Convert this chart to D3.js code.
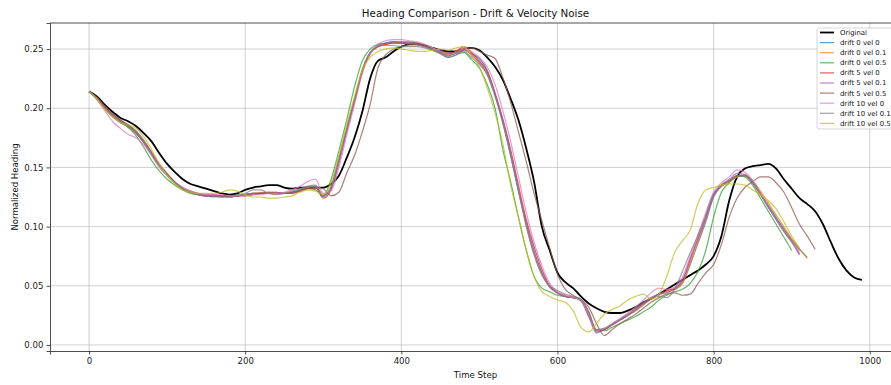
<!DOCTYPE html>
<html>
<head>
<meta charset="utf-8">
<script src="https://cdn.jsdelivr.net/npm/d3@7/dist/d3.min.js"></script>
<style>
  body { margin: 0; background: #fff; }
  svg { font-family: "DejaVu Sans", sans-serif; }
</style>
</head>
<body>
<svg width="891" height="385"></svg>
<script>
// sampled every 10 time steps
const step = 10;

const original = [0.214,0.210,0.203,0.197,0.192,0.189,0.185,0.179,0.172,0.162,
  0.153,0.146,0.140,0.136,0.134,0.132,0.130,0.128,0.127,0.128,
  0.131,0.133,0.134,0.135,0.135,0.133,0.132,0.133,0.133,0.133,
  0.133,0.136,0.143,0.158,0.175,0.197,0.225,0.240,0.243,0.248,
  0.252,0.254,0.254,0.253,0.251,0.249,0.248,0.248,0.250,0.251,
  0.249,0.243,0.235,0.224,0.208,0.190,0.166,0.138,0.100,0.080,
  0.061,0.053,0.048,0.041,0.035,0.031,0.028,0.027,0.027,0.029,
  0.032,0.036,0.039,0.043,0.047,0.051,0.055,0.059,0.063,0.068,
  0.075,0.092,0.122,0.142,0.149,0.151,0.152,0.153,0.149,0.140,
  0.132,0.124,0.119,0.113,0.102,0.087,0.073,0.063,0.057,0.055];

const d0v0 = [0.214,0.209,0.201,0.194,0.189,0.185,0.179,0.171,0.161,0.151,
  0.143,0.137,0.132,0.129,0.127,0.126,0.126,0.126,0.126,0.126,
  0.127,0.128,0.128,0.129,0.128,0.128,0.129,0.131,0.133,0.134,
  0.125,0.134,0.158,0.183,0.207,0.232,0.247,0.253,0.255,0.256,
  0.256,0.256,0.255,0.253,0.250,0.247,0.244,0.247,0.250,0.246,
  0.242,0.232,0.212,0.188,0.160,0.130,0.103,0.079,0.061,0.049,
  0.044,0.041,0.040,0.038,0.026,0.011,0.013,0.017,0.021,0.025,
  0.029,0.034,0.039,0.043,0.045,0.047,0.052,0.068,0.086,0.104,
  0.125,0.134,0.138,0.142,0.143,0.138,0.128,0.118,0.108,0.098,
  0.089,0.081,0.074];

const d0v01 = [0.214,0.208,0.200,0.193,0.188,0.184,0.179,0.171,0.161,0.152,
  0.144,0.137,0.132,0.129,0.127,0.127,0.126,0.126,0.126,0.126,
  0.127,0.128,0.129,0.129,0.129,0.128,0.128,0.130,0.133,0.134,
  0.126,0.133,0.156,0.183,0.208,0.233,0.247,0.252,0.254,0.255,
  0.255,0.255,0.254,0.252,0.250,0.248,0.245,0.248,0.251,0.246,
  0.239,0.229,0.211,0.189,0.162,0.131,0.101,0.077,0.060,0.049,
  0.044,0.041,0.040,0.038,0.027,0.012,0.013,0.017,0.021,0.025,
  0.029,0.034,0.039,0.042,0.045,0.047,0.052,0.069,0.087,0.106,
  0.126,0.134,0.138,0.142,0.144,0.139,0.130,0.120,0.110,0.100,
  0.090,0.081,0.073];

const d0v05 = [0.214,0.208,0.200,0.193,0.188,0.184,0.177,0.167,0.156,0.147,
  0.140,0.135,0.131,0.128,0.127,0.126,0.125,0.125,0.125,0.126,
  0.127,0.128,0.128,0.128,0.128,0.128,0.129,0.131,0.132,0.131,
  0.126,0.140,0.164,0.190,0.218,0.240,0.250,0.254,0.255,0.256,
  0.255,0.255,0.254,0.252,0.250,0.247,0.245,0.246,0.247,0.241,
  0.234,0.220,0.200,0.165,0.138,0.108,0.080,0.058,0.048,0.045,
  0.042,0.041,0.040,0.038,0.024,0.013,0.012,0.015,0.018,0.021,
  0.024,0.028,0.032,0.038,0.042,0.045,0.047,0.052,0.062,0.080,
  0.108,0.129,0.137,0.143,0.142,0.135,0.124,0.113,0.102,0.091,
  0.080];

const d5v0 = [0.214,0.209,0.202,0.195,0.190,0.186,0.180,0.172,0.162,0.152,
  0.144,0.137,0.132,0.129,0.127,0.126,0.126,0.125,0.125,0.126,
  0.126,0.127,0.128,0.129,0.129,0.128,0.128,0.130,0.132,0.133,
  0.124,0.131,0.154,0.181,0.206,0.231,0.246,0.252,0.254,0.255,
  0.255,0.255,0.255,0.253,0.251,0.248,0.246,0.248,0.252,0.247,
  0.240,0.231,0.213,0.191,0.165,0.135,0.106,0.083,0.064,0.050,
  0.044,0.041,0.040,0.038,0.028,0.012,0.013,0.017,0.021,0.025,
  0.030,0.035,0.039,0.043,0.046,0.048,0.054,0.072,0.090,0.108,
  0.127,0.135,0.139,0.143,0.143,0.137,0.127,0.117,0.106,0.096,
  0.087,0.077];

const d5v01 = [0.214,0.209,0.201,0.194,0.189,0.185,0.179,0.171,0.161,0.151,
  0.143,0.137,0.132,0.129,0.127,0.126,0.126,0.126,0.125,0.126,
  0.127,0.128,0.128,0.128,0.128,0.128,0.129,0.131,0.134,0.135,
  0.126,0.132,0.155,0.182,0.207,0.232,0.247,0.253,0.255,0.256,
  0.256,0.255,0.254,0.252,0.249,0.246,0.243,0.245,0.249,0.245,
  0.238,0.229,0.212,0.190,0.163,0.132,0.103,0.079,0.061,0.049,
  0.044,0.041,0.040,0.037,0.024,0.010,0.013,0.017,0.021,0.025,
  0.030,0.035,0.040,0.043,0.044,0.047,0.055,0.073,0.090,0.107,
  0.126,0.135,0.140,0.145,0.144,0.137,0.127,0.116,0.106,0.096,
  0.087,0.076];

const d5v05 = [0.214,0.209,0.201,0.195,0.190,0.186,0.181,0.173,0.163,0.153,
  0.145,0.138,0.133,0.130,0.128,0.127,0.127,0.126,0.126,0.126,
  0.127,0.127,0.128,0.128,0.128,0.128,0.129,0.130,0.132,0.133,
  0.132,0.126,0.129,0.145,0.160,0.180,0.203,0.234,0.245,0.250,
  0.252,0.254,0.254,0.253,0.251,0.249,0.247,0.247,0.249,0.251,
  0.248,0.245,0.242,0.226,0.205,0.180,0.155,0.128,0.105,0.082,
  0.060,0.047,0.042,0.038,0.032,0.018,0.008,0.013,0.018,0.022,
  0.026,0.031,0.036,0.040,0.043,0.044,0.042,0.043,0.052,0.061,
  0.068,0.085,0.108,0.124,0.133,0.138,0.142,0.142,0.137,0.129,
  0.116,0.102,0.092,0.081];

const d10v0 = [0.214,0.207,0.198,0.189,0.183,0.178,0.175,0.169,0.160,0.150,
  0.143,0.137,0.133,0.130,0.128,0.127,0.127,0.127,0.126,0.126,
  0.126,0.127,0.127,0.128,0.128,0.129,0.131,0.134,0.138,0.140,
  0.128,0.130,0.150,0.177,0.203,0.229,0.246,0.254,0.257,0.258,
  0.258,0.257,0.256,0.254,0.251,0.248,0.245,0.247,0.250,0.248,
  0.243,0.235,0.220,0.198,0.172,0.142,0.112,0.087,0.067,0.052,
  0.045,0.042,0.040,0.038,0.026,0.012,0.014,0.018,0.022,0.027,
  0.032,0.038,0.044,0.048,0.047,0.049,0.057,0.075,0.093,0.112,
  0.129,0.137,0.142,0.148,0.146,0.139,0.128,0.117,0.106,0.096,
  0.087,0.078];

const d10v01 = [0.214,0.208,0.200,0.193,0.188,0.185,0.180,0.172,0.162,0.152,
  0.144,0.137,0.132,0.129,0.127,0.126,0.126,0.126,0.126,0.127,
  0.128,0.131,0.131,0.128,0.127,0.128,0.130,0.132,0.134,0.134,
  0.127,0.133,0.155,0.181,0.206,0.231,0.246,0.252,0.253,0.253,
  0.252,0.252,0.252,0.251,0.249,0.246,0.243,0.245,0.248,0.243,
  0.237,0.228,0.210,0.187,0.160,0.130,0.100,0.076,0.059,0.050,
  0.046,0.043,0.041,0.039,0.028,0.013,0.014,0.018,0.022,0.026,
  0.031,0.036,0.040,0.041,0.040,0.047,0.062,0.078,0.093,0.110,
  0.128,0.135,0.139,0.143,0.143,0.138,0.128,0.117,0.107,0.097,
  0.088,0.080];

const d10v05 = [0.214,0.208,0.199,0.193,0.188,0.186,0.183,0.176,0.165,0.153,
  0.143,0.136,0.131,0.129,0.128,0.128,0.128,0.129,0.131,0.130,
  0.127,0.125,0.125,0.124,0.124,0.125,0.126,0.129,0.131,0.130,
  0.127,0.137,0.160,0.186,0.210,0.232,0.243,0.248,0.250,0.251,
  0.250,0.249,0.248,0.248,0.249,0.250,0.249,0.251,0.252,0.244,
  0.235,0.217,0.196,0.170,0.135,0.108,0.080,0.058,0.045,0.041,
  0.038,0.036,0.029,0.015,0.011,0.018,0.026,0.030,0.033,0.038,
  0.041,0.043,0.039,0.043,0.058,0.078,0.088,0.097,0.120,0.131,
  0.133,0.135,0.136,0.136,0.135,0.131,0.127,0.122,0.115,0.104,
  0.092,0.082];

const seriesNames = ["Original", "drift 0 vel 0", "drift 0 vel 0.1", "drift 0 vel 0.5",
  "drift 5 vel 0", "drift 5 vel 0.1", "drift 5 vel 0.5",
  "drift 10 vel 0", "drift 10 vel 0.1", "drift 10 vel 0.5"];
const seriesValues = [original, d0v0, d0v01, d0v05, d5v0, d5v01, d5v05, d10v0, d10v01, d10v05];
const seriesColors = ["#000000", "#1f77b4", "#ff7f0e", "#2ca02c", "#d62728",
  "#9467bd", "#8c564b", "#e377c2", "#7f7f7f", "#bcbd22"];

const xTicks = [0, 200, 400, 600, 800, 1000];
const yTicks = [0.00, 0.05, 0.10, 0.15, 0.20, 0.25];

const svg = d3.select("svg"),
    margin = {top: 23, left: 50, bottom: 34}
const width = 851, height = +svg.attr("height") - margin.top - margin.bottom;

const x = d3.scaleLinear().domain([-50, 1040]).range([0, width]);
const y = d3.scaleLinear().domain([-0.0051, 0.272]).range([height, 0]);

svg.append("defs").append("clipPath").attr("id", "clip")
  .append("rect").attr("width", width).attr("height", height);

const g = svg.append("g")
  .attr("transform", "translate(" + margin.left + "," + margin.top + ")");

// grid
g.append("g").selectAll("line").data(xTicks).enter().append("line")
  .attr("x1", d => x(d)).attr("x2", d => x(d))
  .attr("y1", 0).attr("y2", height)
  .attr("stroke", "#b0b0b0").attr("stroke-opacity", 0.75).attr("stroke-width", 0.8);
g.append("g").selectAll("line").data(yTicks).enter().append("line")
  .attr("x1", 0).attr("x2", width)
  .attr("y1", d => y(d)).attr("y2", d => y(d))
  .attr("stroke", "#b0b0b0").attr("stroke-opacity", 0.75).attr("stroke-width", 0.8);

const line = d3.line()
  .x((d, i) => x(i * step))
  .y(d => y(d))
  .curve(d3.curveMonotoneX);

const lines = g.append("g").attr("clip-path", "url(#clip)");
seriesValues.forEach((vals, k) => {
  lines.append("path")
    .datum(vals)
    .attr("fill", "none")
    .attr("stroke", seriesColors[k])
    .attr("stroke-width", k == 0 ? 1.8 : 1.2)
    .attr("stroke-opacity", k == 0 ? 1 : 0.75)
    .attr("stroke-linejoin", "round")
    .attr("d", line);
});

// axes
const axisX = g.append("g")
  .attr("transform", "translate(0," + height + ")")
  .call(d3.axisBottom(x).tickValues(xTicks).tickFormat(d3.format("d")).tickSize(3.5).tickPadding(3));
const axisY = g.append("g")
  .call(d3.axisLeft(y).tickValues(yTicks).tickFormat(d3.format(".2f")).tickSize(3.5).tickPadding(3));
[axisX, axisY].forEach(a => {
  a.select(".domain").attr("stroke", "#222").attr("stroke-width", 0.8);
  a.selectAll(".tick line").attr("stroke", "#222").attr("stroke-width", 0.8);
  a.selectAll("text").attr("font-size", "8.6px").attr("fill", "#222")
    .attr("font-family", "DejaVu Sans");
});
g.append("line").attr("x1", 0).attr("x2", width).attr("y1", 0).attr("y2", 0)
  .attr("stroke", "#222").attr("stroke-width", 0.8);

svg.append("text")
  .attr("x", margin.left + width / 2).attr("y", 17)
  .attr("text-anchor", "middle").attr("font-size", "10.3px").attr("fill", "#111")
  .text("Heading Comparison - Drift & Velocity Noise");

svg.append("text")
  .attr("x", margin.left + width / 2).attr("y", 378)
  .attr("text-anchor", "middle").attr("font-size", "8.6px").attr("fill", "#111")
  .text("Time Step");

svg.append("text")
  .attr("transform", "translate(18," + (margin.top + height / 2) + ") rotate(-90)")
  .attr("text-anchor", "middle").attr("font-size", "8.6px").attr("fill", "#111")
  .text("Normalized Heading");

// legend
const legend = svg.append("g").attr("transform", "translate(817,28)");
legend.append("rect")
  .attr("width", 90).attr("height", 101).attr("rx", 2)
  .attr("fill", "#fff").attr("fill-opacity", 0.8)
  .attr("stroke", "#ccc").attr("stroke-width", 0.8);
seriesNames.forEach((name, k) => {
  const row = legend.append("g").attr("transform", "translate(0," + (4.5 + k * 10.1) + ")");
  row.append("line")
    .attr("x1", 3).attr("x2", 17).attr("y1", 0).attr("y2", 0)
    .attr("stroke", seriesColors[k])
    .attr("stroke-width", k == 0 ? 1.8 : 1.2)
    .attr("stroke-opacity", k == 0 ? 1 : 0.75);
  row.append("text")
    .attr("x", 23).attr("y", 2.4)
    .attr("font-size", "6.9px").attr("fill", "#111")
    .text(name);
});
</script>
</body>
</html>
